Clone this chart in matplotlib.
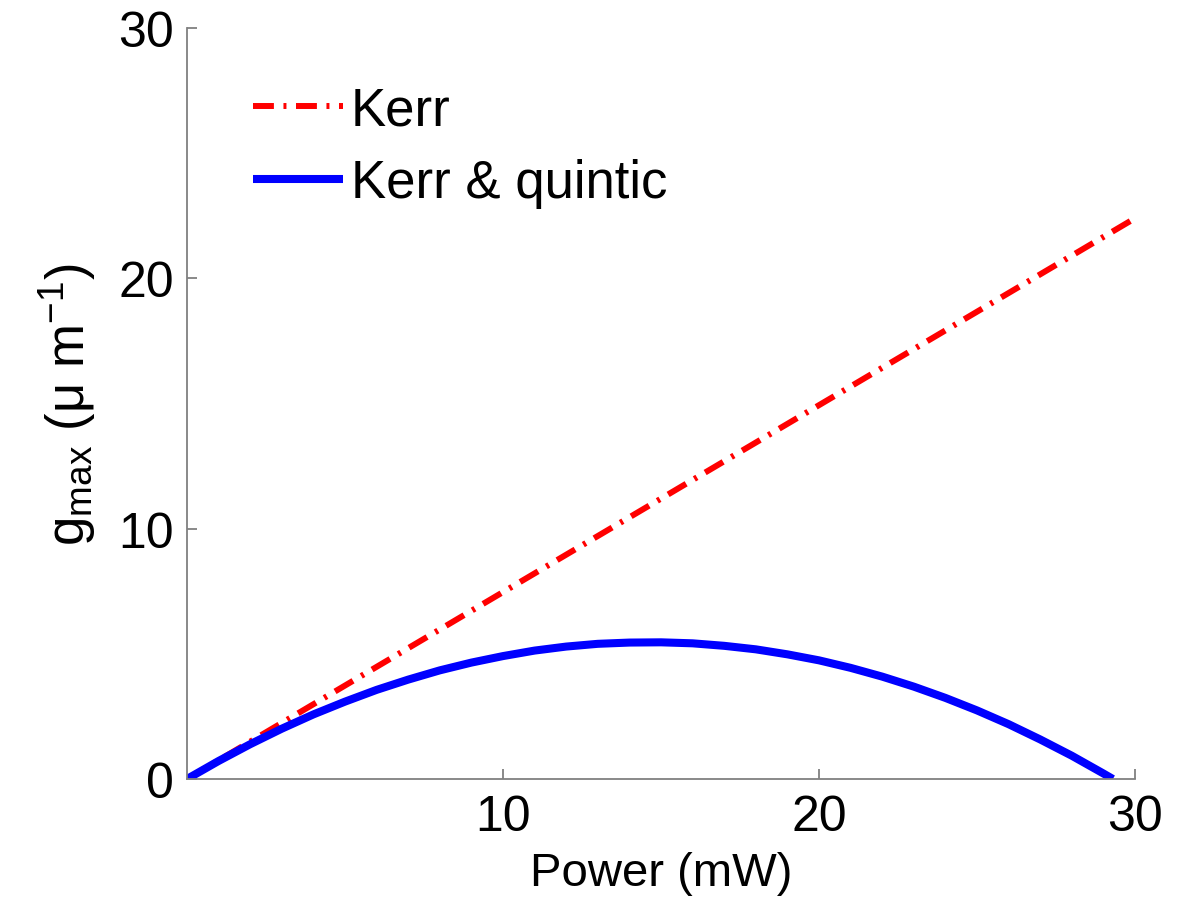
import matplotlib
matplotlib.use("Agg")
import matplotlib.pyplot as plt

# Data
power_kerr = [0.0, 30.0]
gmax_kerr = [0.0, 22.4]

power_quintic = [0, 1, 2, 3, 4, 5, 6, 7, 8, 9, 10, 11, 12, 13, 14, 15, 16, 17, 18,
                 19, 20, 21, 22, 23, 24, 25, 26, 27, 28, 29, 29.3]
gmax_quintic = [0.0, 0.72, 1.39, 2.01, 2.58, 3.09, 3.56, 3.97, 4.34, 4.65, 4.91,
                5.13, 5.29, 5.40, 5.45, 5.46, 5.42, 5.32, 5.18, 4.98, 4.74, 4.44,
                4.09, 3.69, 3.24, 2.74, 2.19, 1.58, 0.93, 0.22, 0.0]

xticks = [10, 20, 30]
yticks = [0, 10, 20, 30]

plt.rcParams['font.family'] = ['Liberation Sans', 'DejaVu Sans']
plt.rcParams['mathtext.fontset'] = 'custom'
plt.rcParams['mathtext.rm'] = 'Liberation Sans'
plt.rcParams['mathtext.it'] = 'Liberation Sans'

W, H = 1178, 903
fig = plt.figure(figsize=(W / 100, H / 100), dpi=100)
ax = fig.add_axes([187 / W, 1 - 780 / H, 948 / W, 751 / H])

ax.plot(power_kerr, gmax_kerr, color='red', lw=4.3, dashes=(3.5, 1.6, 0.5, 1.6),
        label='Kerr')
ax.plot(power_quintic, gmax_quintic, color='blue', lw=5.8,
        solid_capstyle='butt', label='Kerr & quintic')

ax.set_xlim(0, 30)
ax.set_ylim(0, 30)
ax.set_xticks(xticks)
ax.set_yticks(yticks)

for side in ['top', 'right']:
    ax.spines[side].set_visible(False)
for side in ['left', 'bottom']:
    ax.spines[side].set_color('#808080')
    ax.spines[side].set_linewidth(1.3)

ax.tick_params(direction='in', length=7, width=1.3, color='#808080', labelsize=36)
ax.tick_params(axis='x', pad=11)
ax.tick_params(axis='y', pad=9.5)

ax.set_xlabel('Power (mW)', fontsize=34)
ax.xaxis.set_label_coords(0.5, (780 - 852) / 751)
ax.set_ylabel('g$_{\\mathregular{max}}$ (μ m$^{\\mathregular{-1}}$)', fontsize=38)
ax.yaxis.set_label_coords((98 - 187) / 948, 0.5)

leg = ax.legend(loc='upper left', bbox_to_anchor=(0.07, 0.923), frameon=False,
                fontsize=38, handlelength=1.7, handletextpad=0.15,
                borderpad=0, borderaxespad=0, labelspacing=0.42)

fig.savefig('out.png', dpi=100)
